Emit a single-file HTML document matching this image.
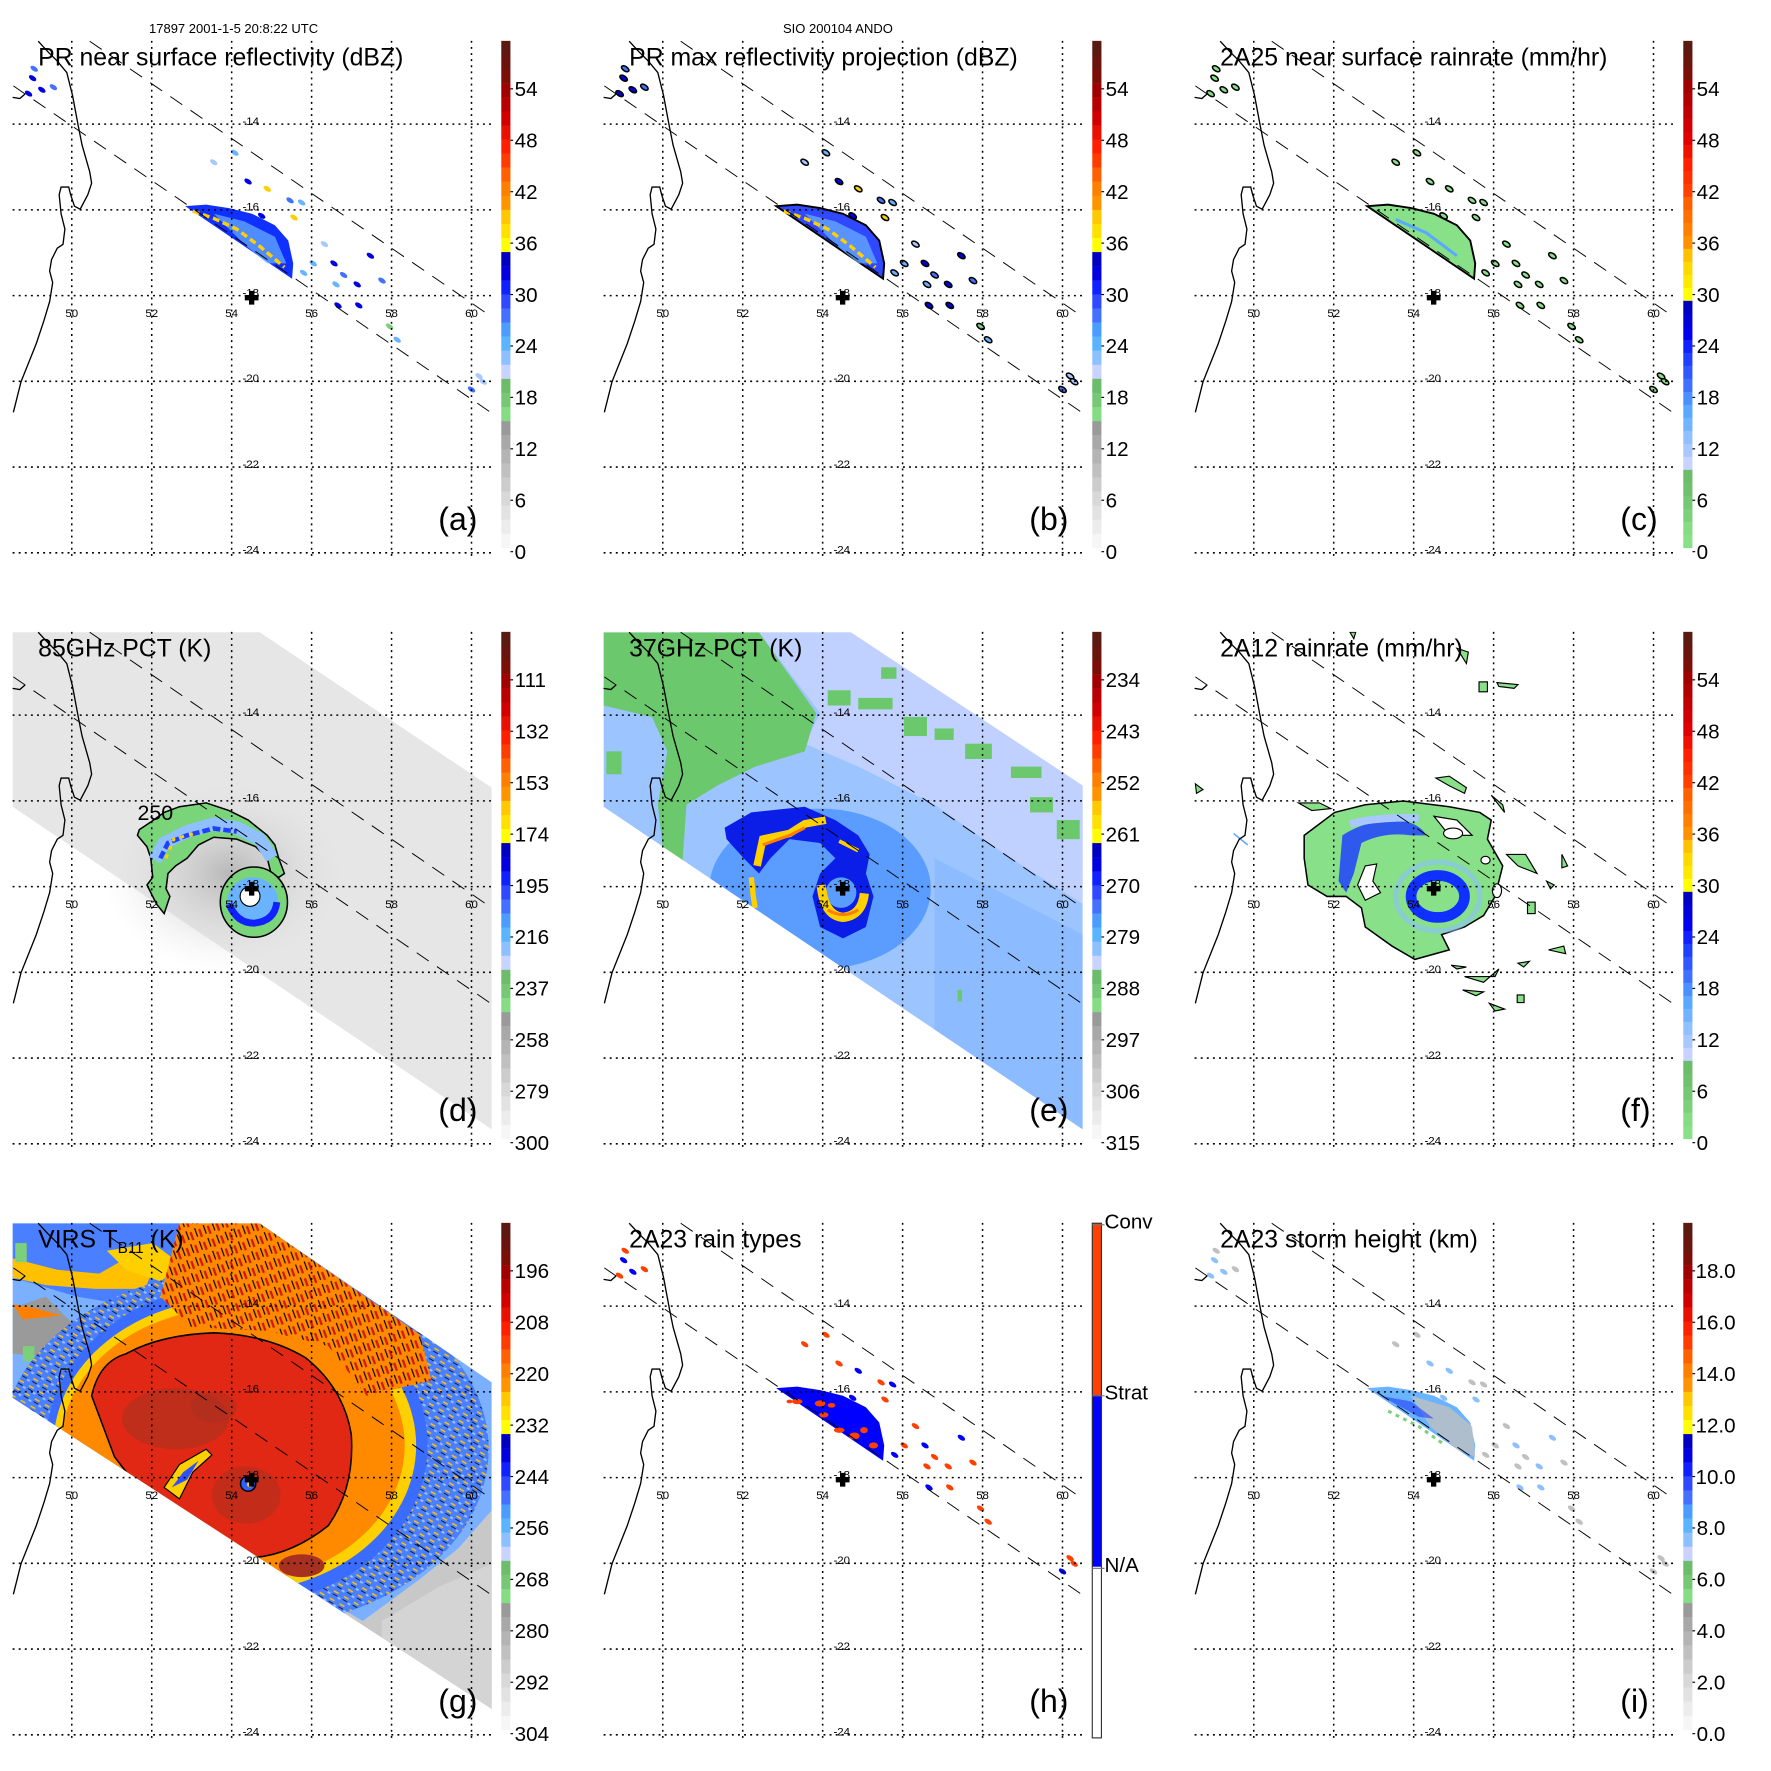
<!DOCTYPE html>
<html><head><meta charset="utf-8">
<style>
html,body{margin:0;padding:0;background:#fff;}
#fig{position:relative;width:1771px;height:1771px;overflow:hidden;background:#fff;font-family:"Liberation Sans",sans-serif;}
svg{position:absolute;}
svg text{font-family:"Liberation Sans",sans-serif;fill:#000;}
</style></head>
<body>
<div id="fig"></div>
<script>
// ---- data arrays ----
const latTicks=[-14,-16,-18,-20,-22,-24];
const lonTicks=[50,52,54,56,58,60];
const cellLon=[54.08,53.55,54.41,54.89,55.46,55.75,54.75,55.56,56.32,56.56,56.80,56.04,55.80,57.14,57.47,57.76,56.66,57.18,56.61,57.95,58.14,60.19,60.0,60.29,49.06,49.02,49.25,49.54,48.92];
const cellLat=[-14.67,-14.89,-15.34,-15.51,-15.78,-15.83,-16.14,-16.18,-16.8,-17.25,-17.52,-17.25,-17.47,-17.74,-17.07,-17.65,-18.23,-18.23,-17.74,-18.72,-19.03,-19.88,-20.19,-20.01,-12.71,-12.93,-13.2,-13.14,-13.29];
const cellDbz=[24,22,30,36,28,24,30,36,22,30,28,24,26,30,30,28,30,32,26,20,26,22,28,22,28,30,30,28,32];
const cellConv=[1,1,1,0,1,0,0,1,1,0,1,1,0,1,0,1,0,1,1,1,1,1,0,1,1,0,0,1,1];
const labelsDbz=['0','6','12','18','24','30','36','42','48','54'];
const labels85=['300','279','258','237','216','195','174','153','132','111'];
const labels37=['315','306','297','288','279','270','261','252','243','234'];
const labelsVirs=['304','292','280','268','256','244','232','220','208','196'];
const labelsRain=['0','6','12','18','24','30','36','42','48','54'];
const labelsHeight=['0.0','2.0','4.0','6.0','8.0','10.0','12.0','14.0','16.0','18.0'];
const stormLon=54.5, stormLat=-18.05;

// ---- axis functions (panel units, 1548 per 591px) ----
function X(lon){return 188+(lon-50)*104.7;}
function Y(lat){return 325+(-14-lat)*112.3;}

const DR=['#5a1a12','#6a140e','#7c0e08'];
const RD=['#a00000','#b80000','#d00000','#e81000','#ff2000','#ff3c00'];
const OR=['#ff6000','#ff8000','#ff9400'];
const YE=['#ffc800','#ffe000','#ffff00'];
const BL=['#0000c0','#0000e0','#1020ff','#3048ff','#4470ff','#4a9cff','#5ab4ff','#8cc0ff','#c8d4ff'];
const GR=['#6cbc6c','#76c876','#84dc84'];
const GY=['#9a9a9a','#a8a8a8','#b4b4b4','#c0c0c0','#cccccc','#d8d8d8','#e2e2e2','#ececec','#f6f6f6'];
const PAL=[...DR,...RD,...OR,...YE,...BL,...GR,...GY];
const PALR=[...DR,'#a00000','#b00000','#c00000','#d00000','#e00000','#f01000','#ff2000','#ff3000','#ff4000','#ff6000','#ff7000','#ff8000','#ff9000','#ffc000','#ffd800','#ffe800','#ffff00',
 '#0000c0','#0000d8','#0000f0','#1020ff','#2040ff','#3058ff','#4070ff','#4a90ff','#5aa8ff','#70b4ff','#90c0ff','#a8c8ff','#c8d4ff','#6cbc6c','#70c070','#76c876','#7cd07c','#84dc84','#88e088'];

function dbzColor(v){
  if(v<15) return '#bbbbbb';
  if(v<21) return '#7cd07c';
  if(v<24) return '#a8c8ff';
  if(v<27) return '#6ab4ff';
  if(v<30) return '#4470ff';
  if(v<36) return '#0000e0';
  if(v<45) return '#ffd000';
  return '#e81000';
}

const fig=document.getElementById('fig');

const COAST="M100,108 L125,135 L150,160 L175,190 L190,250 L205,330 L215,380 L235,450 L240,480 L230,510 L210,548 L195,540 L185,510 L180,490 L160,490 L155,510 L160,560 L170,600 L165,640 L150,650 L135,680 L130,710 L138,740 L130,790 L115,840 L95,900 L75,950 L55,1000 L35,1080 M33,255 L52,258 L66,246";

function cellsSvg(mode){
  let s='';
  for(let i=0;i<cellLon.length;i++){
    const x=X(cellLon[i]),y=Y(cellLat[i]);
    let fill,stroke='none',sw=0;
    if(mode==='a'){fill=dbzColor(cellDbz[i]);}
    else if(mode==='b'){fill=dbzColor(cellDbz[i]);stroke='#000';sw=4;}
    else if(mode==='c'){fill='#88e088';stroke='#000';sw=4;}
    else if(mode==='h'){fill=cellConv[i]?'#ff4000':'#0000ff';}
    else {fill=cellDbz[i]>28?'#8cc0ff':'#c0c0c0';}
    s+=`<ellipse cx="${x.toFixed(1)}" cy="${y.toFixed(1)}" rx="11" ry="6" transform="rotate(34 ${x.toFixed(1)} ${y.toFixed(1)})" fill="${fill}" stroke="${stroke}" stroke-width="${sw}"/>`;
  }
  return s;
}
const PRREG="485,540 540,536 600,545 660,560 720,590 755,630 768,690 765,730";

function colorbar(kind,labels){
  let s='<g>';
  const top=107,bot=1435;
  if(kind==='h'){
    s+=`<rect x="1313" y="108" width="24" height="450" fill="#ff4000"/><rect x="1313" y="558" width="24" height="450" fill="#0000ff"/><rect x="1313" y="1008" width="24" height="448" fill="#fff"/><rect x="1313" y="108" width="24" height="1348" fill="none" stroke="#333" stroke-width="3"/>`;
    const tl=[['Conv',112],['Strat',560],['N/A',1012]];
    tl.forEach(t=>{s+=`<line x1="1313" x2="1345" y1="${t[1]}" y2="${t[1]}" stroke="#777" stroke-width="3"/><text x="1345" y="${t[1]+10}" font-size="54">${t[0]}</text>`;});
    return s+'</g>';
  }
  const pal=kind==='rain'?PALR:PAL;
  const h=(bot-top)/pal.length;
  pal.forEach((c,i)=>{s+=`<rect x="1313" y="${(top+i*h).toFixed(1)}" width="24" height="${(h+0.6).toFixed(1)}" fill="${c}"/>`;});
  labels.forEach((l,i)=>{const y=1445-i*134.7;
    s+=`<line x1="1337" x2="1344" y1="${y}" y2="${y}" stroke="#000" stroke-width="3"/><text x="${l.length>3?1345:1348}" y="${y+19}" font-size="54">${l}</text>`;});
  return s+'</g>';
}

function panel(c,r,name,content,title,letter,cb,labels){
  let s=`<svg style="left:${591*c}px;top:${591*r}px" width="591" height="591" viewBox="0 0 1548 1548">`;
  s+=`<defs><clipPath id="map-${name}"><rect x="33" y="107" width="1255" height="1350"/></clipPath></defs>`;
  s+=`<g clip-path="url(#map-${name})">${content}</g>`;
  s+='<g>';
  latTicks.forEach(l=>{s+=`<line x1="33" x2="1288" y1="${Y(l)}" y2="${Y(l)}" stroke="#000" stroke-width="4" stroke-dasharray="5 11"/>`;
    s+=`<text x="${X(54.27)}" y="${Y(l)+2}" font-size="30">${l}</text>`;});
  lonTicks.forEach(l=>{s+=`<line x1="${X(l)}" x2="${X(l)}" y1="107" y2="1457" stroke="#000" stroke-width="4" stroke-dasharray="5 11"/>`;
    s+=`<text x="${X(l)}" y="${Y(-18)+56}" font-size="30" text-anchor="middle">${l}</text>`;});
  s+='</g>';
  s+=`<path d="${COAST}" fill="none" stroke="#000" stroke-width="3.5"/>`;
  s+=`<g stroke="#000" stroke-width="2.5" stroke-dasharray="38 26"><line x1="235" y1="108" x2="1288" y2="830"/><line x1="35" y1="225" x2="1288" y2="1082"/></g>`;
  const cx=X(stormLon),cy=Y(stormLat);
  s+=`<path d="M${cx-7},${cy-18} h14 v11 h11 v14 h-11 v11 h-14 v-11 h-11 v-14 h11 z" fill="#000"/>`;
  s+=`<text x="100" y="172" font-size="65">${title}</text>`;
  s+=`<text x="1148" y="1388" font-size="84">${letter}</text>`;
  s+=colorbar(cb,labels);
  s+='</svg>';
  fig.insertAdjacentHTML('beforeend',s);
}

// ---- panel contents ----
const streak=`<polyline points="505,553 560,572 620,600 680,645 745,700" fill="none" stroke="#ffd000" stroke-width="9" stroke-dasharray="18 10"/>`;
const aContent=`<polygon points="${PRREG}" fill="#1030ff"/><polygon points="560,560 640,580 720,620 750,690 700,690 640,640" fill="#6ab4ff" opacity="0.7"/>${streak}${cellsSvg('a')}`;
const bContent=`<polygon points="${PRREG}" fill="#3048ff" stroke="#000" stroke-width="5"/><polygon points="560,560 640,580 720,620 750,690 700,690 640,640" fill="#6ab4ff" opacity="0.7"/>${streak}${cellsSvg('b')}`;
const cContent=`<polygon points="${PRREG}" fill="#88e088" stroke="#000" stroke-width="5"/><polyline points="560,575 640,610 720,670" fill="none" stroke="#5aa8ff" stroke-width="8"/>${cellsSvg('c')}`;

const SW="33,108 680,108 1288,515 1288,1410 33,565";
const dContent=`<defs><radialGradient id="halo"><stop offset="0" stop-color="#b8b8b8"/><stop offset="1" stop-color="#e8e8e8" stop-opacity="0"/></radialGradient></defs>
<polygon points="${SW}" fill="#e6e6e6"/>
<ellipse cx="600" cy="740" rx="330" ry="260" fill="url(#halo)"/>
<path d="M360,640 L365,625 L395,605 L430,580 L470,565 L540,555 L600,575 L650,600 L700,640 L720,665 L730,700 L745,740 L730,750 L710,740 L700,700 L670,670 L620,650 L560,645 L520,665 L490,700 L460,720 L440,740 L435,780 L445,800 L430,845 L410,820 L395,790 L385,770 L400,750 L395,700 L385,670 Z" fill="#7ad47a" stroke="#000" stroke-width="4"/>
<polyline points="405,705 430,660 490,630 560,610 620,620 680,650 712,700" fill="none" stroke="#90c0ff" stroke-width="34"/>
<polyline points="420,700 440,660 490,640 560,622 620,630" fill="none" stroke="#2040ff" stroke-width="12" stroke-dasharray="20 8"/>
<polyline points="435,700 455,650 510,635" fill="none" stroke="#ffd000" stroke-width="8" stroke-dasharray="10 14"/>
<ellipse cx="665" cy="815" rx="88" ry="92" fill="#7ad47a" stroke="#000" stroke-width="4"/>
<ellipse cx="662" cy="812" rx="66" ry="62" fill="#6ab4ff"/>
<path d="M600,820 Q620,870 665,870 Q720,865 725,815" fill="none" stroke="#1020ff" stroke-width="18"/>
<circle cx="655" cy="800" r="26" fill="#fff" stroke="#000" stroke-width="3"/>
<text x="360" y="600" font-size="56">250</text>`;

const eContent=`<clipPath id="swe"><polygon points="33,108 680,108 1288,510 1288,1410 33,565"/></clipPath>
<g clip-path="url(#swe)">
<rect x="0" y="0" width="1548" height="1548" fill="#9cc4ff"/>
<polygon points="440,108 700,108 1288,500 1288,820 1100,700 900,560 700,460 560,400 600,320" fill="#c0d0ff"/>
<polygon points="900,700 1288,900 1288,1410 900,1250" fill="#8cbcff"/>
<polygon points="33,108 440,108 590,320 560,420 430,460 330,510 250,560 240,705 190,690 175,560 200,420 160,330 33,300" fill="#6cc86c"/>
<g fill="#6cc86c"><rect x="620" y="260" width="60" height="40"/><rect x="700" y="280" width="90" height="30"/><rect x="820" y="330" width="60" height="50"/><rect x="900" y="360" width="50" height="30"/><rect x="980" y="400" width="70" height="40"/><rect x="1100" y="460" width="80" height="30"/><rect x="1150" y="540" width="60" height="40"/><rect x="1220" y="600" width="60" height="50"/><rect x="760" y="200" width="40" height="30"/><rect x="40" y="420" width="40" height="60"/><rect x="960" y="1045" width="12" height="30"/></g>
<ellipse cx="600" cy="780" rx="290" ry="210" fill="#5a9cff"/>
<polygon points="350,620 420,580 560,565 640,600 700,640 730,690 720,740 740,800 720,880 660,910 600,880 580,800 600,740 640,700 600,660 520,650 470,700 440,740 400,700 355,650" fill="#0a1ee8"/>
<ellipse cx="655" cy="790" rx="40" ry="40" fill="#5a9cff"/>
<polyline points="435,720 450,650 520,635 560,610 615,600" fill="none" stroke="#ffd000" stroke-width="20"/>
<polyline points="450,665 520,640 560,620" fill="none" stroke="#ff8000" stroke-width="8"/>
<path d="M603,770 Q610,850 660,855 Q710,850 716,792" fill="none" stroke="#ffd000" stroke-width="24"/>
<path d="M620,835 Q660,860 700,835" fill="none" stroke="#ff8000" stroke-width="8"/>
<polyline points="420,750 425,800 430,830" fill="none" stroke="#ffd000" stroke-width="14"/>
<polyline points="650,655 700,680" fill="none" stroke="#ffd000" stroke-width="10"/>
</g>`;

const fContent=`<path d="M320,640 L400,580 L480,560 L580,550 L700,565 L780,580 L810,600 L800,650 L840,720 L820,800 L790,850 L740,880 L680,900 L700,940 L610,965 L550,930 L480,880 L470,830 L430,800 L380,800 L330,770 L320,700 Z" fill="#88e088" stroke="#000" stroke-width="4"/>
<path d="M420,640 Q480,600 560,600 Q620,605 640,640 L600,640 Q530,630 470,660 L450,740 L430,790 L410,760 Z" fill="#2040ff" opacity="0.85"/>
<path d="M440,610 Q520,590 620,595" fill="none" stroke="#a8c8ff" stroke-width="20"/>
<ellipse cx="670" cy="800" rx="70" ry="55" fill="none" stroke="#1030ff" stroke-width="28"/>
<ellipse cx="670" cy="800" rx="110" ry="90" fill="none" stroke="#8cc0ff" stroke-width="14" opacity="0.6"/>
<path d="M480,720 L510,715 L500,760 L520,790 L480,810 L460,770 Z" fill="#fff" stroke="#000" stroke-width="3"/>
<path d="M660,590 L720,600 L760,640 L700,640 Z" fill="#fff" stroke="#000" stroke-width="3"/>
<ellipse cx="710" cy="635" rx="25" ry="14" fill="#fff" stroke="#000" stroke-width="3"/>
<ellipse cx="795" cy="705" rx="12" ry="10" fill="#fff" stroke="#000" stroke-width="3"/>
<ellipse cx="825" cy="785" rx="12" ry="18" fill="#fff" stroke="#000" stroke-width="3"/>
<g fill="#88e088" stroke="#000" stroke-width="3"><path d="M665,490 L700,485 L745,515 L740,530 L700,510 Z"/><rect x="778" y="238" width="22" height="26"/><path d="M825,240 L880,245 L870,255 L830,250 Z"/><path d="M305,555 L360,555 L390,570 L340,575 Z"/><path d="M810,535 L840,560 L845,580 Z"/><path d="M850,690 L900,690 L930,740 L880,720 Z"/><rect x="905" y="815" width="20" height="30"/><path d="M740,1010 L820,1010 L830,990 L790,1025 Z"/><path d="M735,1045 L790,1050 L770,1060 Z"/><path d="M805,1080 L845,1095 L820,1100 Z"/><path d="M880,975 L910,970 L895,985 Z"/><path d="M960,940 L1000,930 L1005,950 Z"/><path d="M955,760 L975,770 L965,780 Z"/><path d="M995,690 L1010,720 L995,725 Z"/><path d="M705,980 L745,985 L720,990 Z"/><path d="M35,505 L55,520 L38,530 Z"/><rect x="878" y="1058" width="18" height="20"/><path d="M440,108 L455,108 L450,125 Z"/><path d="M720,150 L750,160 L745,190 Z"/></g>
<path d="M135,635 L172,665" stroke="#5aa8ff" stroke-width="4"/>`;

const gContent=`<clipPath id="swg"><polygon points="33,108 680,108 1288,525 1288,1380 33,565"/></clipPath>
<defs><pattern id="gstr" width="24" height="36" patternUnits="userSpaceOnUse" patternTransform="rotate(-20)"><rect width="24" height="36" fill="#ff8a00"/><rect x="4" y="0" width="3" height="24" fill="#000"/><rect x="13" y="6" width="6" height="22" fill="#d01a10"/></pattern>
<pattern id="bstr" width="30" height="22" patternUnits="userSpaceOnUse" patternTransform="rotate(30)"><rect width="30" height="22" fill="#4a80ff"/><rect x="3" y="4" width="14" height="4" fill="#ffc000"/><rect x="4" y="13" width="14" height="2" fill="#000"/><rect x="20" y="14" width="8" height="5" fill="#9cc4ff"/></pattern></defs>
<g clip-path="url(#swg)">
<rect x="0" y="0" width="1548" height="1548" fill="#7ab0ff"/>
<polygon points="33,108 500,108 480,260 380,330 200,300 33,250" fill="#4a80ff"/>
<polygon points="33,330 120,300 200,380 150,460 33,450" fill="#9a9a9a"/>
<polygon points="150,440 220,430 240,500 160,520" fill="#a0a0a0"/>
<polygon points="33,200 150,230 260,240 330,200 400,230 380,280 250,280 120,270 33,250" fill="#ffc000"/>
<polygon points="280,180 400,160 480,220 420,260 330,230" fill="#ffd000"/>
<polygon points="33,320 90,330 160,350 60,360" fill="#ff8000"/>
<g fill="#7cd07c"><rect x="60" y="430" width="30" height="40"/><rect x="40" y="160" width="30" height="50"/><rect x="210" y="620" width="20" height="20"/></g>
<polygon points="800,1060 950,1150 1100,1040 1200,960 1288,860 1288,1400 780,1400" fill="#c8c8c8"/>
<polygon points="1000,1150 1150,1060 1288,1000 1288,1400 1000,1400" fill="#d4d4d4"/>
<ellipse cx="640" cy="700" rx="640" ry="470" fill="url(#bstr)"/>
<ellipse cx="620" cy="690" rx="500" ry="420" fill="#3a6cff"/>
<ellipse cx="615" cy="690" rx="475" ry="385" fill="#ffd000"/>
<ellipse cx="610" cy="690" rx="450" ry="360" fill="#ff8a00"/>
<polygon points="470,108 680,108 1100,400 1130,520 960,560 860,430 700,390 500,380 420,300" fill="url(#gstr)"/>
<path d="M240,560 Q260,470 330,450 Q420,400 560,395 Q700,400 800,460 Q900,540 920,660 Q930,800 860,900 Q760,980 650,985 Q560,990 470,940 L300,720 Z" fill="#e02814" stroke="#000" stroke-width="4"/>
<ellipse cx="460" cy="620" rx="140" ry="80" fill="#a83020" opacity="0.6"/>
<ellipse cx="560" cy="590" rx="60" ry="40" fill="#a83020" opacity="0.5"/>
<ellipse cx="645" cy="820" rx="90" ry="75" fill="#a83020" opacity="0.5"/>
<path d="M430,800 L470,740 L540,700 L555,715 L505,760 L470,830 Z" fill="#ffd000" stroke="#000" stroke-width="3"/>
<path d="M450,800 L480,760 L520,730 L490,780 Z" fill="#3050ff"/>
<circle cx="650" cy="790" r="20" fill="#3060ff" stroke="#000" stroke-width="4"/>
<circle cx="655" cy="792" r="8" fill="#ffd000"/>
<ellipse cx="790" cy="1005" rx="60" ry="30" fill="#a83020"/>
</g>`;

const hContent=`<polygon points="${PRREG}" fill="#0000ff"/><g fill="#ff4000"><ellipse cx="540" cy="575" rx="14" ry="7"/><ellipse cx="600" cy="580" rx="14" ry="8"/><ellipse cx="630" cy="585" rx="10" ry="6"/><ellipse cx="610" cy="610" rx="12" ry="7"/><ellipse cx="650" cy="650" rx="14" ry="7"/><ellipse cx="690" cy="665" rx="14" ry="9"/><ellipse cx="715" cy="650" rx="10" ry="8"/><ellipse cx="740" cy="690" rx="12" ry="8"/><ellipse cx="520" cy="575" rx="8" ry="5"/></g>${cellsSvg('h')}`;
const iContent=`<polygon points="${PRREG}" fill="#6ab4ff"/><polygon points="600,560 700,590 760,640 768,720 720,700 650,640" fill="#c0c0c0" opacity="0.8"/><polygon points="520,560 600,575 660,620 620,615" fill="#2040ff" opacity="0.6"/><polyline points="540,600 620,640 690,690" fill="none" stroke="#7cd07c" stroke-width="8" stroke-dasharray="10 12"/>${cellsSvg('i')}`;

panel(0,0,'a',aContent,'PR near surface reflectivity (dBZ)','(a)','std',labelsDbz);
panel(1,0,'b',bContent,'PR max reflectivity projection (dBZ)','(b)','std',labelsDbz);
panel(2,0,'c',cContent,'2A25 near surface rainrate (mm/hr)','(c)','rain',labelsRain);
panel(0,1,'d',dContent,'85GHz PCT (K)','(d)','std',labels85);
panel(1,1,'e',eContent,'37GHz PCT (K)','(e)','std',labels37);
panel(2,1,'f',fContent,'2A12 rainrate (mm/hr)','(f)','rain',labelsRain);
panel(0,2,'g',gContent,'VIRS T<tspan font-size="40" dy="14">B11</tspan><tspan dy="-14"> (K)</tspan>','(g)','std',labelsVirs);
panel(1,2,'h',hContent,'2A23 rain types','(h)','h',[]);
panel(2,2,'i',iContent,'2A23 storm height (km)','(i)','std',labelsHeight);

fig.insertAdjacentHTML('beforeend','<div style="position:absolute;left:149px;top:21px;font-size:13px;font-family:Liberation Sans,sans-serif">17897 2001-1-5 20:8:22 UTC</div><div style="position:absolute;left:783px;top:21px;font-size:13px;font-family:Liberation Sans,sans-serif">SIO 200104 ANDO</div>');
</script>
</body></html>
